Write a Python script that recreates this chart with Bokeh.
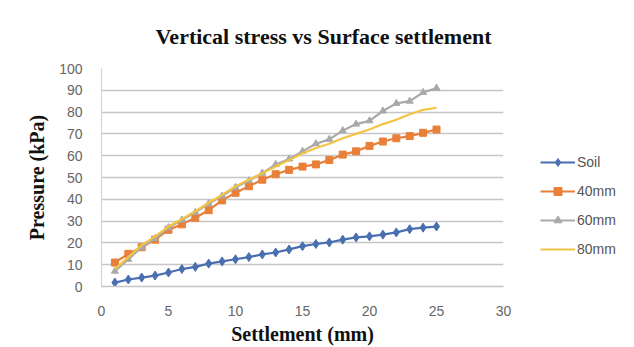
from bokeh.plotting import figure
from bokeh.models import Legend, LegendItem, Title, FixedTicker, Range1d
from bokeh.layouts import row
from bokeh.embed import file_html
from bokeh.resources import INLINE

settlement = list(range(1, 26))
soil = [1.8, 3.2, 4.1, 5.0, 6.4, 8.0, 9.0, 10.5, 11.5, 12.5, 13.5, 14.7, 15.6, 17.0, 18.5,
        19.5, 20.2, 21.5, 22.5, 23.0, 23.8, 24.8, 26.3, 27.0, 27.5]
mm40 = [11, 15, 18, 21.5, 26, 28.5, 31.5, 35, 39.5, 43, 46, 49, 51.5, 53.5, 55,
        56, 58, 60.5, 62, 64.5, 66.5, 68, 69, 70.5, 72]
mm60 = [7, 12.5, 18, 22, 27, 30.5, 34, 38, 41.5, 45.5, 48.5, 52, 56, 58.5, 62,
        65.5, 67.5, 71.5, 74.5, 76, 80.5, 84, 85, 89, 91]
mm80 = [8, 13.5, 19, 23, 27.5, 31, 34.5, 38.5, 42, 46, 49, 52, 55, 58, 61,
        63.5, 65.5, 68, 70, 72, 74.5, 76.5, 79, 81, 82]
series_names = ["Soil", "40mm", "60mm", "80mm"]
x_ticks = [0, 5, 10, 15, 20, 25, 30]
y_ticks = [0, 10, 20, 30, 40, 50, 60, 70, 80, 90, 100]

p = figure(width=515, height=347, output_backend="svg", toolbar_location=None,
           x_range=Range1d(0, 30), y_range=Range1d(0, 100),
           min_border_left=101, min_border_right=12, min_border_top=68, min_border_bottom=61)
p.outline_line_color = None
p.background_fill_color = "white"
p.border_fill_color = "white"

tick_font = "Liberation Sans"
for ax in (p.xaxis[0], p.yaxis[0]):
    ax.major_label_text_font = tick_font
    ax.major_label_text_font_size = "14px"
    ax.major_label_text_color = "#666666"
    ax.major_tick_line_color = None
    ax.minor_tick_line_color = None
    ax.axis_label_text_font = "Liberation Serif"
    ax.axis_label_text_font_style = "bold"
    ax.axis_label_text_color = "#111111"

p.xaxis.axis_label_text_font_size = "20px"
p.yaxis.axis_label_text_font_size = "20px"
p.xaxis.ticker = FixedTicker(ticks=x_ticks)
p.yaxis.ticker = FixedTicker(ticks=y_ticks)
p.xaxis.axis_label = "Settlement (mm)"
p.yaxis.axis_label = "Pressure (kPa)"
p.xaxis.major_label_standoff = 13
p.xaxis.axis_label_standoff = 4
p.yaxis.major_label_standoff = 13
p.yaxis.axis_label_standoff = 8
p.xaxis.axis_line_color = "#C4C4C4"
p.xaxis.axis_line_width = 1.5
p.yaxis.axis_line_color = "#D4D4D4"
p.yaxis.axis_line_width = 1.2

p.xgrid.grid_line_color = None
p.ygrid.grid_line_color = "#C6C6C6"
p.ygrid.grid_line_width = 1.5

title = Title(text="Vertical stress vs Surface settlement", align="left",
              text_font="Liberation Serif", text_font_style="bold",
              text_font_size="22px", text_color="#111111", standoff=40, offset=54)
p.add_layout(title, "above")

# separate narrow figure that only carries the legend
lg = figure(width=119, height=347, output_backend="svg", toolbar_location=None,
            x_range=Range1d(0, 1), y_range=Range1d(0, 1),
            min_border=0, min_border_left=0, min_border_right=0,
            min_border_top=0, min_border_bottom=0)
lg.axis.visible = False
lg.grid.visible = False
lg.outline_line_color = None
lg.border_fill_color = "white"

colors = ["#4A6FB0", "#E8803A", "#A9A9A9", "#F3C443"]
markers = ["diamond", "square", "triangle", None]
msizes = [9, 7, 7, 0]
data = [soil, mm40, mm60, mm80]
offscreen = [-10.0, -9.0]
items = []
for name, ys, c, m, ms in zip(series_names, data, colors, markers, msizes):
    p.line(settlement, ys, line_color=c, line_width=2.2)
    r = [lg.line(x=offscreen, y=offscreen, line_color=c, line_width=2.2)]
    if m is not None:
        p.scatter(settlement, ys, marker=m, size=ms, fill_color=c, line_color=c)
        r.append(lg.scatter(x=offscreen, y=offscreen, marker=m, size=ms, fill_color=c, line_color=c))
    items.append(LegendItem(label=name, renderers=r))

legend = Legend(items=items, location=(25, 27), orientation="vertical",
                glyph_width=35, glyph_height=20, label_height=20, spacing=9,
                padding=0, margin=0, label_standoff=2,
                label_text_font=tick_font, label_text_font_size="14px",
                label_text_color="#555555", border_line_color=None,
                background_fill_alpha=0)
lg.add_layout(legend, "center")

layout = row(p, lg, spacing=0)
open("out.html", "w").write(file_html(layout, INLINE))
